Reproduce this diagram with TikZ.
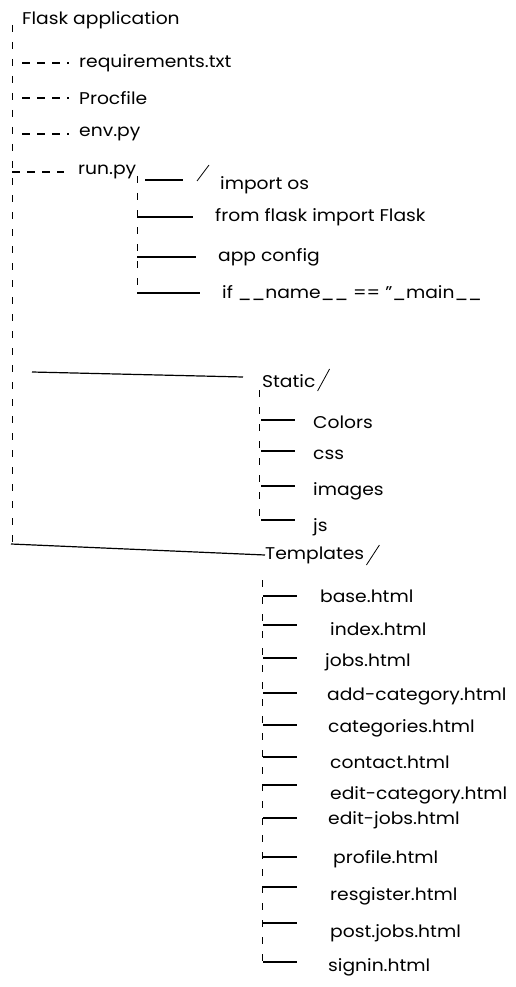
\documentclass[tikz,border=0pt]{standalone}
\usepackage{fontspec}
\setmainfont{Poppins}[FakeStretch=1.1]

\begin{document}
\begin{tikzpicture}[x=1pt,y=-1pt,font=\fontsize{17}{19}\selectfont,
  trunk/.style={line width=1pt,dash pattern=on 7pt off 10pt},
  dashes/.style={line width=1.1pt,dash pattern=on 8pt off 7pt},
  twig/.style={line width=1.2pt},
  item/.style={anchor=west,inner sep=0pt}]
  \useasboundingbox (0,0) rectangle (515,987);

  % root and files
  \node[item] (flask) at (22,20) {Flask application};
  \draw[trunk] (12,25) -- (12,544);
  \foreach \y/\lab/\nm in {63/requirements.txt/req,98/Procfile/proc,134/env.py/env} {
    \node[item] (\nm) at (79,\y) {\lab};
    \draw[dashes] (22,\y) -- ([xshift=-10pt]\nm.west);
  }

  % run.py
  \node[item] (run) at (78,172) {run.py};
  \draw[dashes] (12,172) -- ([xshift=-14pt]run.west);
  \draw[twig] (145,180) -- (183,180);
  \draw[line width=.8pt] (197,181) -- (209,165);
  \node[item] (imp) at (220,185) {import os};
  \draw[trunk] (137,176) -- (137,292);
  \foreach \y/\x/\lab/\nm in {217/215/from flask import Flask/frm,
      257/218/app config/cfg,293/222/{if \_\_name\_\_ == "\_main\_\_}/mn} {
    \node[item] (\nm) at (\x,\y) {\lab};
    \draw[twig] (137,\y) -- ([xshift=-22pt]\nm.west);
  }

  % static
  \draw[twig] (32,372) -- (243,377);
  \node[item] (static) at (262,381) {Static};
  \draw[line width=.8pt] ([xshift=2pt,yshift=-10pt]static.east) -- ++(12,-22);
  \draw[trunk] (259,390) -- (259,520);
  \foreach \y/\ly/\lab/\nm in {422/420/Colors/col,455/451/css/css,491/486/images/img,527/520/js/js} {
    \node[item] (\nm) at (313,\y) {\lab};
    \draw[twig] (261,\ly) -- (295,\ly);
  }

  % templates
  \node[item] (tpl) at (265,555) {Templates};
  \draw[twig] (11,544) -- (tpl.west);
  \draw[line width=.8pt] ([xshift=2pt,yshift=-10pt]tpl.east) -- ++(13,-20);
  \draw[trunk] (262,580) -- (262,965);
  \foreach \y/\ly/\x/\lab/\nm in {596/596/320/base.html/base,629/625/330/index.html/idx,
      662/658/325/jobs.html/jobs,696/693/327/add-category.html/addc,
      728/725/328/categories.html/cats,762/757/330/contact.html/cont,
      795/785/330/edit-category.html/edc,820/818/328/edit-jobs.html/edj,
      859/857/333/profile.html/prof,896/887/330/resgister.html/reg,
      933/923/330/post.jobs.html/post,967/962/328/signin.html/sign} {
    \node[item] (\nm) at (\x,\y) {\lab};
    \draw[twig] (263,\ly) -- (297,\ly);
  }
\end{tikzpicture}
\end{document}
